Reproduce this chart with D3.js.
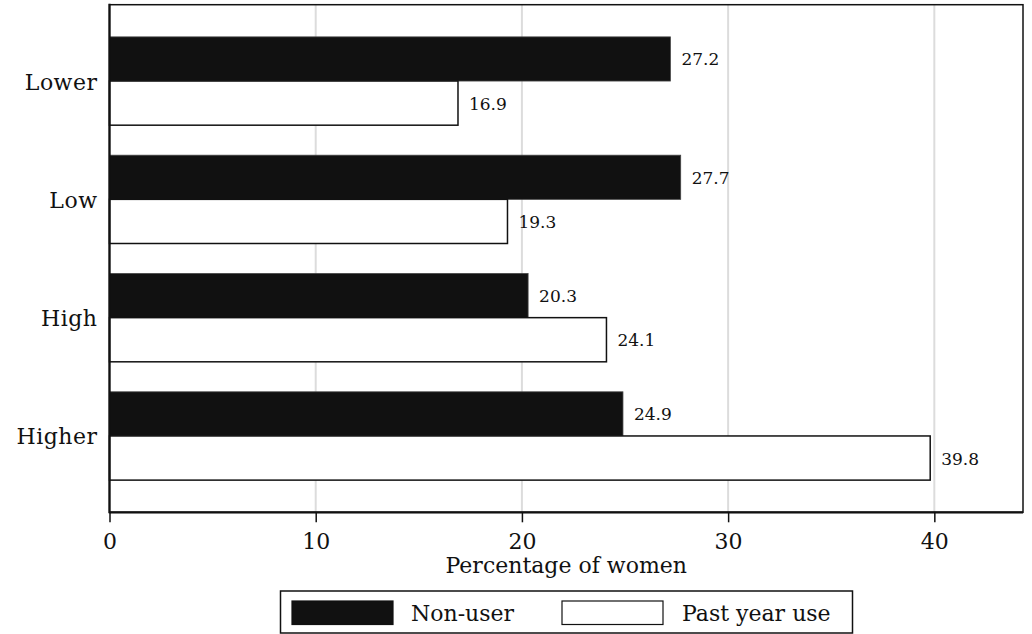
<!DOCTYPE html>
<html>
<head>
<meta charset="utf-8">
<script src="https://cdn.jsdelivr.net/npm/d3@7"></script>
<style>
  html, body { margin: 0; padding: 0; background: #fff; }
  svg { display: block; }
  text { font-family: "DejaVu Serif", serif; fill: #111; }
</style>
</head>
<body>
<svg id="chart" width="1032" height="634"></svg>
<script>
const categories = ["Lower", "Low", "High", "Higher"];
const seriesNames = ["Non-user", "Past year use"];
const nonUser = [27.2, 27.7, 20.3, 24.9];
const pastYearUse = [16.9, 19.3, 24.1, 39.8];
const xTicks = [0, 10, 20, 30, 40];
const xTitle = "Percentage of women";

(function () {
const svg = d3.select("#chart");
const pLeft = 109.5, pRight = 1023, pTop = 4.7, pBottom = 512.3;

const x = d3.scaleLinear().domain([0, 44.3]).range([pLeft, pRight]);
const y = d3.scaleBand().domain(categories).range([pTop, pBottom])
  .paddingInner(0.2536).paddingOuter(0.272);
const sub = d3.scaleBand().domain(seriesNames).range([0, y.bandwidth()]);

// gridlines
svg.append("g").selectAll("line").data(xTicks.filter(d => d > 0)).join("line")
  .attr("x1", d => x(d)).attr("x2", d => x(d))
  .attr("y1", pTop).attr("y2", pBottom)
  .attr("stroke", "#dcdcdc").attr("stroke-width", 2);

// bars
const rows = categories.map((c, i) => ({cat: c, vals: [nonUser[i], pastYearUse[i]]}));
const g = svg.append("g");
rows.forEach(r => {
  r.vals.forEach((v, j) => {
    const yy = y(r.cat) + sub(seriesNames[j]);
    g.append("rect")
      .attr("x", x(0)).attr("y", yy)
      .attr("width", x(v) - x(0)).attr("height", sub.bandwidth())
      .attr("fill", j === 0 ? "#111" : "#fff")
      .attr("stroke", j === 0 ? "#444" : "#111")
      .attr("stroke-width", j === 0 ? 0.8 : 1.5);
    g.append("text")
      .attr("x", x(v) + 11).attr("y", yy + sub.bandwidth() / 2 + 0.5)
      .attr("dominant-baseline", "central")
      .attr("font-size", "17px")
      .text(v.toFixed(1));
  });
});

// frame
svg.append("rect")
  .attr("x", pLeft).attr("y", pTop)
  .attr("width", pRight - pLeft).attr("height", pBottom - pTop)
  .attr("fill", "none").attr("stroke", "#111").attr("stroke-width", 1.5);
svg.append("line").attr("x1", pLeft).attr("x2", pLeft).attr("y1", pTop - 1).attr("y2", pBottom + 1)
  .attr("stroke", "#111").attr("stroke-width", 2.2);
svg.append("line").attr("x1", pLeft).attr("x2", pRight).attr("y1", pBottom).attr("y2", pBottom)
  .attr("stroke", "#111").attr("stroke-width", 2.2);

// x axis
const xAxis = svg.append("g").attr("transform", `translate(0,${pBottom})`)
  .call(d3.axisBottom(x).tickValues(xTicks).tickSize(10).tickPadding(11).tickFormat(d3.format("d")));
xAxis.select(".domain").remove();
xAxis.selectAll(".tick line").attr("stroke", "#111").attr("stroke-width", 1.5);
xAxis.selectAll(".tick text").attr("font-family", "DejaVu Serif").attr("font-size", "22px").attr("fill", "#111");

// y labels
svg.append("g").selectAll("text").data(categories).join("text")
  .attr("x", pLeft - 12).attr("y", d => y(d) + y.bandwidth() / 2 + 1)
  .attr("text-anchor", "end").attr("dominant-baseline", "central")
  .attr("font-size", "22px").attr("letter-spacing", "0.5px").text(d => d);

// x title
svg.append("text").attr("x", (pLeft + pRight) / 2).attr("y", 565)
  .attr("text-anchor", "middle").attr("dominant-baseline", "central")
  .attr("font-size", "22px").text(xTitle);

// legend
const lg = svg.append("g");
lg.append("rect").attr("x", 280.5).attr("y", 591).attr("width", 572).attr("height", 42)
  .attr("fill", "#fff").attr("stroke", "#111").attr("stroke-width", 1.5);
const legendItems = [
  {name: seriesNames[0], sx: 292, fill: "#111", tx: 411},
  {name: seriesNames[1], sx: 562, fill: "#fff", tx: 682}
];
legendItems.forEach(it => {
  lg.append("rect").attr("x", it.sx).attr("y", 601).attr("width", 101).attr("height", 23.5)
    .attr("fill", it.fill).attr("stroke", "#111").attr("stroke-width", 1.2);
  lg.append("text").attr("x", it.tx).attr("y", 613).attr("dominant-baseline", "central")
    .attr("font-size", "22px").text(it.name);
});
})();
</script>
</body>
</html>
